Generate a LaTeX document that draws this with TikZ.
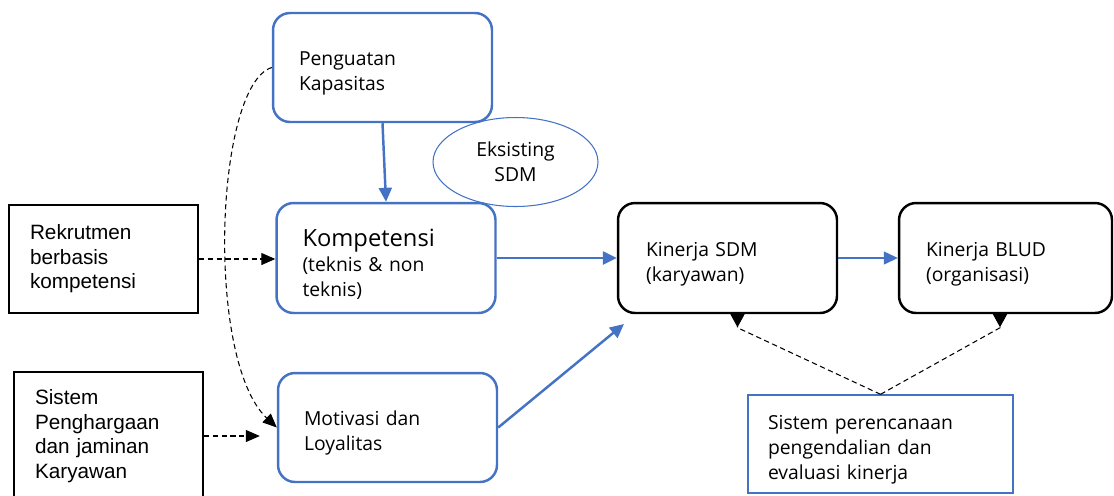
\documentclass[tikz,border=0pt]{standalone}
\usepackage{fontspec}
\setmainfont{Open Sans}
\newfontfamily\arialfont{Liberation Sans}
\usetikzlibrary{arrows.meta,shapes.geometric}
\definecolor{boxblue}{RGB}{68,114,196}

\begin{document}
\begin{tikzpicture}[x=0.02cm, y=-0.02cm,
	font=\fontsize{11}{14.2}\selectfont,
	bluebox/.style={draw=boxblue, line width=1.4pt, rounded corners=0.34cm, minimum height=2.18cm, inner xsep=0.52cm, text width=3.34cm, text height=15pt, align=left},
	blackbox/.style={draw=black, line width=1.4pt, rounded corners=0.34cm, minimum height=2.2cm, inner xsep=0.56cm, text width=3.26cm, text height=15pt, align=left},
	plainbox/.style={draw=black, line width=1.1pt, minimum height=2.16cm, inner xsep=0.42cm, text width=2.94cm, align=left, font=\arialfont\fontsize{11.8}{13.9}\selectfont},
	flow/.style={draw=boxblue, line width=1.4pt, -{Triangle[length=0.28cm, width=0.26cm]}},
	thinflow/.style={flow, line width=0.7pt},
	dashflow/.style={draw=black, line width=0.6pt, dash pattern=on 3pt off 2pt, -{Triangle[length=0.28cm, width=0.24cm]}},
	backflow/.style={dashflow, -{Triangle[length=0.26cm, width=0.28cm, reversed]}}]
	\useasboundingbox (0,0) rectangle (1114,495);

	% --- kolom tengah ---
	\node[bluebox] (pengu) at (382.5,67.5) {Penguatan\\Kapasitas};
	\node[draw=boxblue, line width=0.6pt, ellipse, minimum width=3.3cm, minimum height=1.78cm, align=center, inner sep=0pt] (eksis) at (515.5,162) {Eksisting\\SDM};
	\node[bluebox, minimum height=2.2cm, text height=17.5pt] (kompe) at (386,258) {{\fontsize{13.5}{15}\selectfont Kompetensi}\\(teknis \& non\\teknis)};
	\node[bluebox] (motiv) at (387.5,427.5) {Motivasi dan\\Loyalitas};

	% --- kolom kiri ---
	\node[plainbox] (rekru) at (103.5,259) {Rekrutmen\\berbasis\\kompetensi};
	\node[plainbox, minimum height=2.56cm] (sistem) at (108.5,436) {Sistem\\Penghargaan\\dan jaminan\\Karyawan};

	% --- kinerja ---
	\node[blackbox] (kinsdm) at (727.5,258) {Kinerja SDM\\(karyawan)};
	\node[blackbox, inner xsep=0.54cm, text width=3.18cm] (kinblud) at (1005.5,258) {Kinerja BLUD\\(organisasi)};
	\node[draw=boxblue, line width=0.8pt, minimum height=1.96cm, inner xsep=0.4cm, text width=4.5cm, text height=15pt, align=left] (rencana) at (880.5,444) {Sistem perencanaan\\pengendalian dan\\evaluasi kinerja};

	% --- panah ---
	\coordinate (motivtip) at (624,324);
	\draw[flow] (pengu.south) -- (kompe.north);
	\draw[flow] (kompe.east) -- (kinsdm.west);
	\draw[flow] (motiv.east) -- (motivtip);
	\draw[thinflow] (kinsdm.east) -- (kinblud.west);

	\draw[dashflow] (rekru.east) -- (rekru.east -| kompe.west);
	\draw[dashflow, shorten >=0.34cm] (sistem.east) -- (sistem.east -| motiv.west);
	\draw[dashflow] (pengu.west) .. controls (215,85) and (205,360) .. (motiv.west);

	\draw[backflow] (rencana.north) -- ([xshift=0.2cm, yshift=-0.27cm]kinsdm.south) -- ([xshift=0.2cm]kinsdm.south);
	\draw[backflow] (rencana.north) -- ([xshift=-0.11cm, yshift=-0.27cm]kinblud.south) -- ([xshift=-0.11cm]kinblud.south);
\end{tikzpicture}
\end{document}
